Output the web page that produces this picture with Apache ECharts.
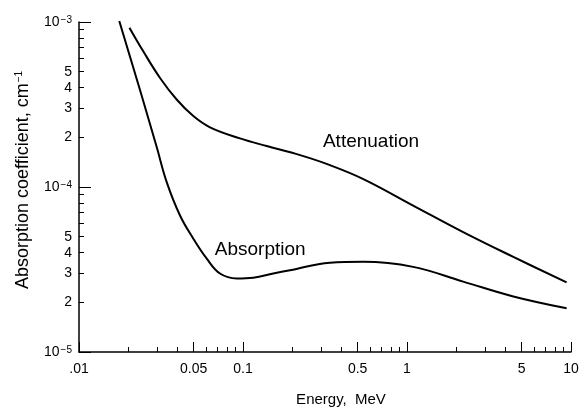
<!DOCTYPE html>
<html>
<head>
<meta charset="utf-8">
<script src="https://cdn.jsdelivr.net/npm/echarts@6/dist/echarts.min.js"></script>
<style>
    html, body { margin: 0; padding: 0; background: #fff; }
    #box01 { width: 582px; height: 412px; }
</style>
</head>
<body>
<div id="box01"></div>
<script>
    // energy (MeV) / coefficient (cm^-1)
    var attenE = [0.0203, 0.0247, 0.0312, 0.0394, 0.0498, 0.0629, 0.0959, 0.1395, 0.223, 0.339, 0.542, 1.09, 2.2, 4.45, 9.4];
    var attenV = [9.24e-4, 6.62e-4, 4.58e-4, 3.39e-4, 2.69e-4, 2.3e-4, 1.97e-4, 1.77e-4, 1.56e-4, 1.357e-4, 1.117e-4, 7.72e-5, 5.33e-5, 3.77e-5, 2.64e-5];
    var absorbE = [0.0176, 0.0236, 0.0298, 0.0343, 0.0413, 0.0498, 0.0601, 0.0724, 0.0915, 0.1156, 0.153, 0.1935, 0.339, 0.542, 1.09, 2.2, 4.45, 9.4];
    var absorbV = [1.014e-3, 3.84e-4, 1.74e-4, 1.067e-4, 6.72e-5, 4.86e-5, 3.68e-5, 2.99e-5, 2.79e-5, 2.82e-5, 2.99e-5, 3.13e-5, 3.48e-5, 3.52e-5, 3.28e-5, 2.67e-5, 2.17e-5, 1.84e-5];

    // tick marks and labels
    var xTickValues = [0.01, 0.05, 0.1, 0.5, 1, 5, 10];
    var xTickLabels = ['.01', '0.05', '0.1', '0.5', '1', '5', '10'];
    var xMinorTicks = [0.02, 0.03, 0.04, 0.06, 0.07, 0.08, 0.09, 0.2, 0.3, 0.4, 0.6, 0.7, 0.8, 0.9, 2, 3, 4, 6, 7, 8, 9];
    var yTickValues = [1e-5, 2e-5, 3e-5, 4e-5, 5e-5, 1e-4, 2e-4, 3e-4, 4e-4, 5e-4, 1e-3];
    var yTickLabels = ['10^-5', '2', '3', '4', '5', '10^-4', '2', '3', '4', '5', '10^-3'];
    var yMajorTicks = [1e-5, 1e-4, 1e-3];
    var yMinorTicks = [2e-5, 3e-5, 4e-5, 5e-5, 6e-5, 7e-5, 8e-5, 9e-5, 2e-4, 3e-4, 4e-4, 5e-4, 6e-4, 7e-4, 8e-4, 9e-4];

    function lg(v) { return Math.log10(v); }

    function pairs(xs, ys) {
        return xs.map(function (x, i) { return [lg(x), lg(ys[i])]; });
    }

    // find the label that belongs to a (log) tick value
    function labelFor(v, values, labels) {
        for (var i = 0; i < values.length; i++) {
            if (Math.abs(lg(values[i]) - v) < 1e-6) {
                var s = labels[i];
                var p = s.split('^');
                return p.length > 1 ? p[0] + '{s|' + p[1].replace('-', '\u2212') + '}' : s;
            }
        }
        return '';
    }

    var font = 'Liberation Sans';
    var supStyle = { fontSize: 10, fontFamily: font, color: '#000', verticalAlign: 'top', padding: [0, 0, 0, 1] };

    var myChart = echarts.init(document.getElementById('box01'));

    var option = {
        animation: false,
        backgroundColor: '#fff',
        textStyle: { fontFamily: font, color: '#000' },
        grid: { left: 79, right: 11, top: 22, bottom: 58 },
        xAxis: [
            {
                type: 'value', min: -2, max: 1, position: 'bottom',
                name: 'Energy,  MeV', nameLocation: 'middle', nameGap: 40,
                nameTextStyle: { fontSize: 15, fontFamily: font, color: '#000', padding: [0, 0, 0, 32] },
                axisLine: { show: true, onZero: false, lineStyle: { color: '#000', width: 1.5 } },
                splitLine: { show: false },
                axisTick: { show: true, inside: true, length: 10, customValues: xTickValues.map(lg), lineStyle: { color: '#000', width: 1 } },
                axisLabel: {
                    customValues: xTickValues.map(lg), margin: 10, fontSize: 14, color: '#000', fontFamily: font,
                    formatter: function (v) { return labelFor(v, xTickValues, xTickLabels); }
                }
            },
            {
                type: 'value', min: -2, max: 1, position: 'bottom',
                axisLine: { show: false, onZero: false },
                splitLine: { show: false },
                axisTick: { show: true, inside: true, length: 5, customValues: xMinorTicks.map(lg), lineStyle: { color: '#000', width: 1 } },
                axisLabel: { show: false }
            }
        ],
        yAxis: [
            {
                type: 'value', min: -5, max: -3, position: 'left',
                name: 'Absorption coefficient, cm{s|\u22121}', nameLocation: 'middle', nameGap: 47, nameRotate: 90,
                nameTextStyle: { fontSize: 18, fontFamily: font, color: '#000', padding: [0, 0, 0, 14], rich: { s: supStyle } },
                axisLine: { show: true, onZero: false, lineStyle: { color: '#000', width: 1.5 } },
                splitLine: { show: false },
                axisTick: { show: true, inside: true, length: 12, customValues: yMajorTicks.map(lg), lineStyle: { color: '#000', width: 1 } },
                axisLabel: {
                    customValues: yTickValues.map(lg), margin: 7, fontSize: 14, color: '#000', fontFamily: font,
                    rich: { s: supStyle },
                    formatter: function (v) { return labelFor(v, yTickValues, yTickLabels); }
                }
            },
            {
                type: 'value', min: -5, max: -3, position: 'left',
                axisLine: { show: false, onZero: false },
                splitLine: { show: false },
                axisTick: { show: true, inside: true, length: 5, customValues: yMinorTicks.map(lg), lineStyle: { color: '#000', width: 1 } },
                axisLabel: { show: false }
            }
        ],
        series: [
            {
                name: 'Attenuation',
                type: 'line',
                data: pairs(attenE, attenV),
                smooth: 0.4,
                symbol: 'none',
                lineStyle: { color: '#000', width: 2 },
                markPoint: {
                    symbol: 'rect', symbolSize: 1, itemStyle: { color: 'transparent' },
                    label: { show: true, position: 'inside', formatter: 'Attenuation', fontSize: 19, color: '#000', fontFamily: font },
                    data: [{ coord: [-0.2195, -3.7229] }]
                }
            },
            {
                name: 'Absorption',
                type: 'line',
                data: pairs(absorbE, absorbV),
                smooth: 0.4,
                symbol: 'none',
                lineStyle: { color: '#000', width: 2 },
                markPoint: {
                    symbol: 'rect', symbolSize: 1, itemStyle: { color: 'transparent' },
                    label: { show: true, position: 'inside', formatter: 'Absorption', fontSize: 19, color: '#000', fontFamily: font },
                    data: [{ coord: [-0.895, -4.3795] }]
                }
            }
        ]
    };

    myChart.setOption(option);
</script>
</body>
</html>
